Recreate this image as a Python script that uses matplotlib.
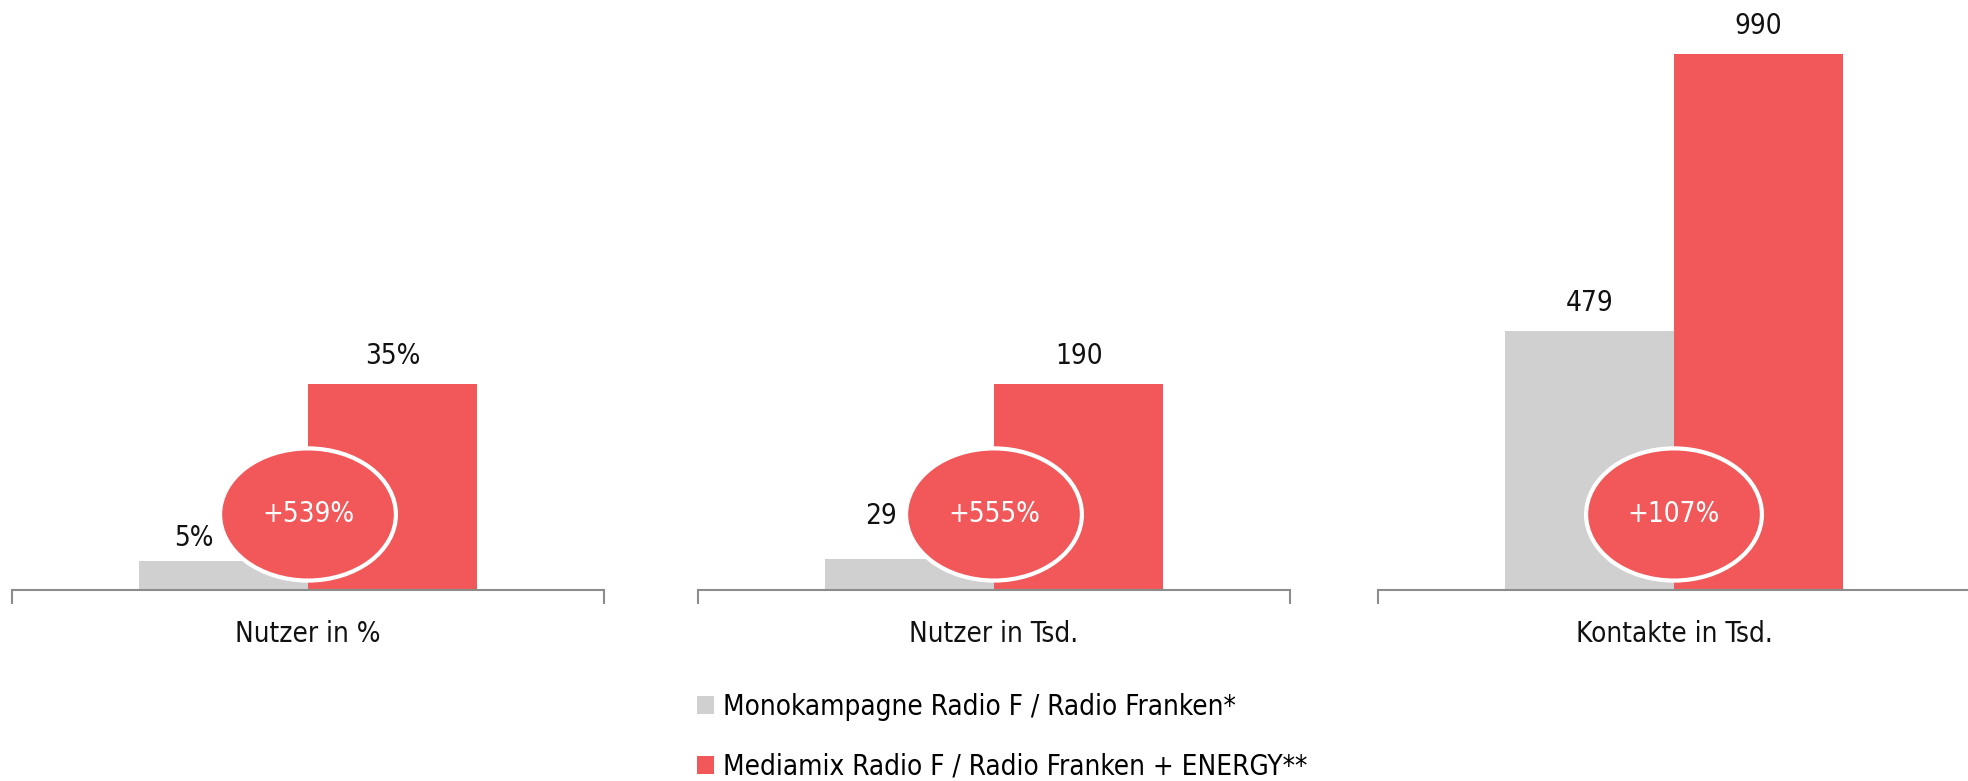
import matplotlib.pyplot as plt
from matplotlib.patches import Ellipse, Patch

# data
categories = ['Nutzer in %', 'Nutzer in Tsd.', 'Kontakte in Tsd.']
mono_values = [5, 29, 479]
mix_values = [35, 190, 990]
mono_labels = ['5%', '29', '479']
mix_labels = ['35%', '190', '990']
growth_labels = ['+539%', '+555%', '+107%']
y_tops = [100, 545, 1090]
series_names = ['Monokampagne Radio F / Radio Franken*',
                'Mediamix Radio F / Radio Franken + ENERGY**']

GRAY = '#d0d0d0'
RED = '#f2585a'
AXIS = '#8c8c8c'
FS = 20


def main():
    plt.rcParams['font.family'] = ['DejaVu Sans']
    plt.rcParams['font.stretch'] = 'condensed'

    fig = plt.figure(figsize=(19.68, 7.81), dpi=100)
    W, H = 1968.0, 781.0
    lefts = [12, 698, 1378]
    ax_w = 592
    bottom = 1 - 590 / H

    # manual offsets (pixels) for the small labels hidden by the bubble
    mono_offsets = [(-29, 8), (-28, 29), (0, 14)]

    bar_w = 0.286
    for i in range(3):
        ax = fig.add_axes([lefts[i] / W, bottom, ax_w / W, 1 - bottom])
        ax.set_xlim(0, 1)
        ax.set_ylim(0, y_tops[i])

        ax.bar(0.5 - bar_w / 2, mono_values[i], bar_w, color=GRAY, zorder=2)
        ax.bar(0.5 + bar_w / 2, mix_values[i], bar_w, color=RED, zorder=2)

        dx, dy = mono_offsets[i]
        ax.annotate(mono_labels[i], (0.5 - bar_w / 2, mono_values[i]),
                    xytext=(dx, dy), textcoords='offset pixels',
                    ha='center', va='bottom', fontsize=FS, color='#111111')
        ax.annotate(mix_labels[i], (0.5 + bar_w / 2, mix_values[i]),
                    xytext=(0, 14), textcoords='offset pixels',
                    ha='center', va='bottom', fontsize=FS, color='#111111')

        ell = Ellipse((0.5, 0.128), 0.297, 0.224, transform=ax.transAxes,
                      facecolor=RED, edgecolor='white', linewidth=3, zorder=4)
        ax.add_patch(ell)
        ax.text(0.5, 0.128, growth_labels[i], transform=ax.transAxes,
                ha='center', va='center', fontsize=FS, color='white', zorder=5)

        for side in ['top', 'right', 'left']:
            ax.spines[side].set_visible(False)
        ax.spines['bottom'].set_color(AXIS)
        ax.spines['bottom'].set_linewidth(1.5)
        ax.set_yticks([])
        ax.set_xticks([0, 1])
        ax.set_xticklabels([])
        ax.tick_params(axis='x', length=10, width=1.5, color=AXIS, direction='out')
        ax.text(0.5, -0.075, categories[i], transform=ax.transAxes,
                ha='center', va='center', fontsize=FS, color='#111111')

    handles = [Patch(facecolor=GRAY, edgecolor='none'),
               Patch(facecolor=RED, edgecolor='none')]
    fig.legend(handles, series_names, loc='upper left',
               bbox_to_anchor=(683 / W, 1 - 679 / H), frameon=False,
               fontsize=FS, handlelength=0.6, handleheight=0.6,
               handletextpad=0.35, labelspacing=1.15, borderpad=0)

    fig.savefig('out.png', dpi=100)


if __name__ == '__main__':
    main()
